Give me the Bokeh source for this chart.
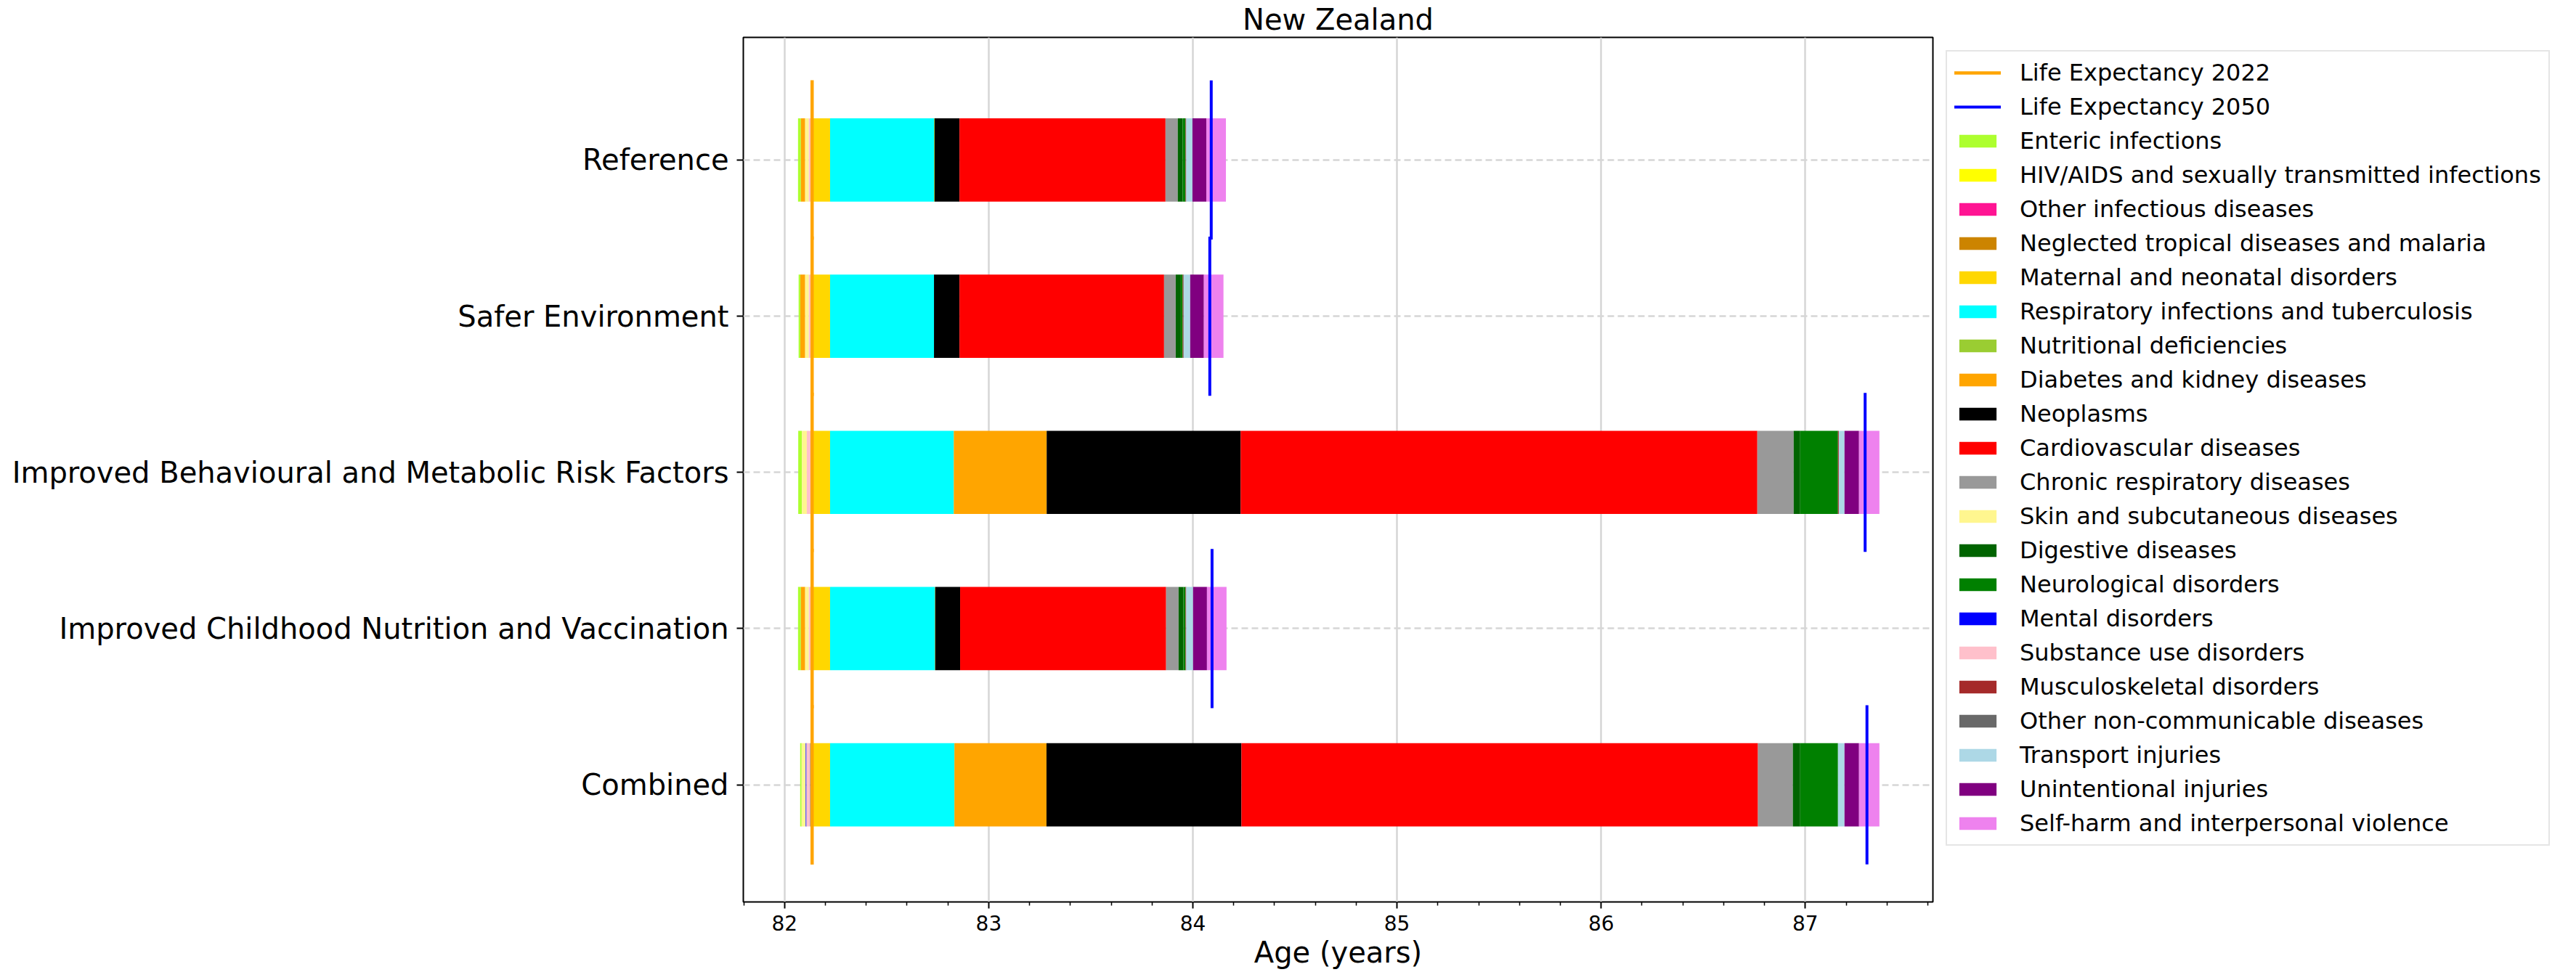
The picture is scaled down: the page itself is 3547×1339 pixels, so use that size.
from bokeh.plotting import figure
from bokeh.models import (ColumnDataSource, Range1d, FixedTicker, Legend, LegendItem)
from bokeh.embed import file_html
from bokeh.resources import INLINE

# ---------------- data ----------------
scenarios = [
    "Reference",
    "Safer Environment",
    "Improved Behavioural and Metabolic Risk Factors",
    "Improved Childhood Nutrition and Vaccination",
    "Combined",
]

causes = [
    "Enteric infections",
    "HIV/AIDS and sexually transmitted infections",
    "Other infectious diseases",
    "Neglected tropical diseases and malaria",
    "Maternal and neonatal disorders",
    "Respiratory infections and tuberculosis",
    "Nutritional deficiencies",
    "Diabetes and kidney diseases",
    "Neoplasms",
    "Cardiovascular diseases",
    "Chronic respiratory diseases",
    "Skin and subcutaneous diseases",
    "Digestive diseases",
    "Neurological disorders",
    "Mental disorders",
    "Substance use disorders",
    "Musculoskeletal disorders",
    "Other non-communicable diseases",
    "Transport injuries",
    "Unintentional injuries",
    "Self-harm and interpersonal violence",
]

cause_colors = [
    "#ADFF2F", "#FFFF00", "#FF1493", "#CC8400", "#FFD700", "#00FFFF", "#9ACD32",
    "#FFA500", "#000000", "#FF0000", "#999999", "#FFF68F", "#006400", "#008000",
    "#0000FF", "#FFC0CB", "#A52A2A", "#696969", "#ADD8E6", "#800080", "#EE82EE",
]

# life expectancy lines
le_2022 = [82.135, 82.135, 82.135, 82.135, 82.135]
le_2050 = [84.090, 84.083, 87.293, 84.094, 87.302]

# contribution of each cause (years), in cause order
reference = [-0.014, 0.0, 0.0, 0.0, 0.088, 0.509, 0.003, -0.021, 0.122, 1.009, 0.060,
             -0.018, 0.024, 0.014, 0.0, -0.016, 0.002, 0.002, 0.030, 0.068, 0.096]
safer_environment = [-0.008, 0.0, 0.0, 0.0, 0.088, 0.509, 0.0, -0.024, 0.125, 1.002, 0.057,
                     -0.018, 0.025, 0.009, 0.0, -0.016, 0.003, 0.003, 0.031, 0.067, 0.096]
behavioural_metabolic = [-0.018, 0.0, 0.0, 0.0, 0.088, 0.606, 0.0, 0.455, 0.950, 2.531, 0.178,
                         -0.024, 0.032, 0.185, 0.0, -0.018, 0.004, -0.008, 0.028, 0.071, 0.100]
childhood_nutrition = [-0.014, 0.0, 0.0, 0.0, 0.088, 0.513, 0.002, -0.021, 0.122, 1.009, 0.061,
                       -0.018, 0.024, 0.010, 0.0, -0.016, 0.002, 0.002, 0.033, 0.068, 0.096]
combined = [-0.007, 0.0, 0.0, 0.0, 0.088, 0.609, 0.0, 0.451, 0.955, 2.530, 0.171,
            -0.020, 0.036, 0.185, -0.004, -0.018, 0.0, -0.0095, 0.032, 0.071, 0.100]

x_ticks = [82, 83, 84, 85, 86, 87]
x_minor_ticks = [81.8, 82.2, 82.4, 82.6, 82.8, 83.2, 83.4, 83.6, 83.8, 84.2, 84.4, 84.6,
                 84.8, 85.2, 85.4, 85.6, 85.8, 86.2, 86.4, 86.6, 86.8, 87.2, 87.4, 87.6]

# ---------------- layout numbers ----------------
X_MIN, X_MAX = 81.798, 87.625
Y_MIN, Y_MAX = -0.75, 4.785
BAR_H = 0.533

rows = [reference, safer_environment, behavioural_metabolic, childhood_nutrition, combined]
n = len(scenarios)
ypos = [n - 1 - i for i in range(n)]

# stack: negatives end at LE 2022 (drawn left of it), positives start at LE 2022
lefts = [[0.0] * n for _ in causes]
rights = [[0.0] * n for _ in causes]
for i, vals in enumerate(rows):
    base = le_2022[i]
    neg_total = sum(-v for v in vals if v < 0)
    neg_cursor = base - neg_total
    pos_cursor = base
    for j, v in enumerate(vals):
        if v < 0:
            lefts[j][i] = neg_cursor
            neg_cursor = neg_cursor - v
            rights[j][i] = neg_cursor
        else:
            lefts[j][i] = pos_cursor
            pos_cursor = pos_cursor + v
            rights[j][i] = pos_cursor

FONT = "DejaVu Sans"

p = figure(
    frame_width=1638, frame_height=1191,
    x_range=Range1d(X_MIN, X_MAX), y_range=Range1d(Y_MIN, Y_MAX),
    output_backend="svg", toolbar_location=None,
    min_border_left=1023, min_border_right=6, min_border_top=0, min_border_bottom=0,
    title="New Zealand",
)
p.background_fill_color = "white"
p.border_fill_color = "white"
p.outline_line_color = "black"
p.outline_line_width = 2

p.title.align = "center"
p.title.text_font = FONT
p.title.text_font_size = "40px"
p.title.text_font_style = "normal"
p.title.text_color = "black"
p.title.text_line_height = 1.0
p.title.standoff = 3
p.title.offset = 0

# grids
p.xgrid.ticker = FixedTicker(ticks=x_ticks)
p.xgrid.grid_line_color = "#d6d6d6"
p.xgrid.grid_line_width = 2.5
p.ygrid.ticker = FixedTicker(ticks=ypos)
p.ygrid.grid_line_color = "#d6d6d6"
p.ygrid.grid_line_width = 2.5
p.ygrid.grid_line_dash = "9 5"

# x axis
p.xaxis.ticker = FixedTicker(ticks=x_ticks, minor_ticks=x_minor_ticks)
p.xaxis.axis_line_color = None
p.xaxis.major_tick_in = 0
p.xaxis.major_tick_out = 9
p.xaxis.minor_tick_in = 0
p.xaxis.minor_tick_out = 5
p.xaxis.major_tick_line_width = 2
p.xaxis.minor_tick_line_width = 1.5
p.xaxis.major_label_text_font = FONT
p.xaxis.major_label_text_font_size = "28px"
p.xaxis.major_label_text_color = "black"
p.xaxis.major_label_standoff = 9
p.xaxis.axis_label = "Age (years)"
p.xaxis.axis_label_text_font = FONT
p.xaxis.axis_label_text_font_size = "40px"
p.xaxis.axis_label_text_font_style = "normal"
p.xaxis.axis_label_text_color = "black"
p.xaxis.axis_label_text_line_height = 1.0
p.xaxis.axis_label_standoff = 4

# y axis
p.yaxis.ticker = FixedTicker(ticks=ypos)
p.yaxis.major_label_overrides = {y: s for y, s in zip(ypos, scenarios)}
p.yaxis.axis_line_color = None
p.yaxis.major_tick_in = 0
p.yaxis.major_tick_out = 9
p.yaxis.major_tick_line_width = 2
p.yaxis.minor_tick_line_color = None
p.yaxis.major_label_text_font = FONT
p.yaxis.major_label_text_font_size = "40px"
p.yaxis.major_label_text_color = "black"
p.yaxis.major_label_standoff = 11

# bars
bar_renderers = []
for j, cause in enumerate(causes):
    src = ColumnDataSource(dict(y=ypos, left=lefts[j], right=rights[j]))
    r = p.hbar(y="y", left="left", right="right", height=BAR_H, source=src,
               fill_color=cause_colors[j], line_color=None)
    bar_renderers.append(r)

# life expectancy lines
lines_src = ColumnDataSource(dict(
    le22=le_2022, le50=le_2050,
    y0=[y - 0.5 for y in ypos], y1=[y + 0.5 for y in ypos],
))
r22 = p.segment(x0="le22", y0="y0", x1="le22", y1="y1", source=lines_src,
                line_color="#FFA500", line_width=4.5, line_cap="square")
r50 = p.segment(x0="le50", y0="y0", x1="le50", y1="y1", source=lines_src,
                line_color="#0000FF", line_width=4, line_cap="square")

items = [LegendItem(label="Life Expectancy 2022", renderers=[r22]),
         LegendItem(label="Life Expectancy 2050", renderers=[r50])]
items += [LegendItem(label=c, renderers=[r]) for c, r in zip(causes, bar_renderers)]

legend = Legend(items=items, location="top_left")
legend.label_text_font = FONT
legend.label_text_font_size = "32px"
legend.label_text_color = "black"
legend.glyph_width = 64
legend.glyph_height = 22
legend.label_height = 37
legend.label_standoff = 26
legend.spacing = 9
legend.padding = 10
legend.margin = 18
legend.border_line_color = "#cccccc"
legend.border_line_width = 2
legend.background_fill_color = "white"
legend.background_fill_alpha = 1
p.add_layout(legend, "right")

open("out.html", "w").write(file_html(p, INLINE))
